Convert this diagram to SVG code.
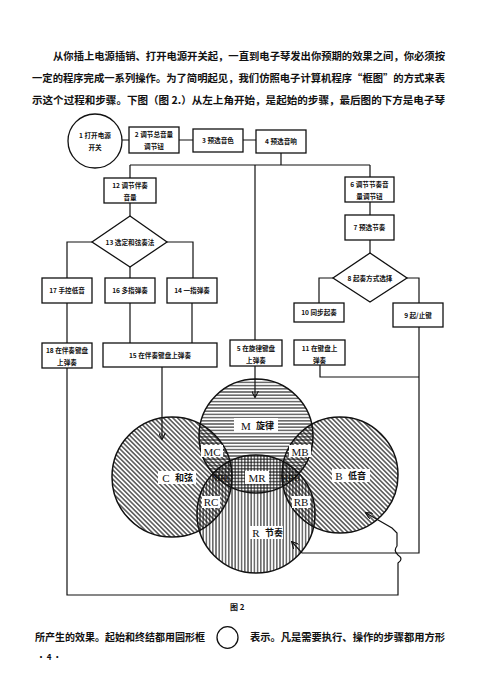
<svg xmlns="http://www.w3.org/2000/svg" width="489" height="690" viewBox="0 0 489 690">
<style>
.bx{fill:#fff;stroke:#111;stroke-width:1.3}
.ln{fill:none;stroke:#111;stroke-width:1.2}
.t{font-family:"Noto Sans CJK SC","Noto Sans CJK TC",sans-serif;font-size:6.6px;font-weight:bold;text-anchor:middle;fill:#111}
.p{font-family:"Noto Sans CJK SC","Noto Sans CJK TC",sans-serif;font-size:10.2px;font-weight:bold;fill:#111}
.v{font-family:"Liberation Serif","Noto Sans CJK SC",serif;font-size:11px;text-anchor:middle;fill:#111}
.vc{font-family:"Noto Sans CJK SC",sans-serif;font-size:9px;font-weight:bold;text-anchor:middle;fill:#111}
.wb{fill:#fff}
.co{fill:none;stroke:#111;stroke-width:1.5}
</style>
<defs>
<pattern id="hh" width="3.2" height="3.2" patternUnits="userSpaceOnUse"><line x1="0" y1="1.6" x2="3.2" y2="1.6" stroke="#111" stroke-width="1"/></pattern>
<pattern id="hv" width="3.2" height="3.2" patternUnits="userSpaceOnUse"><line x1="1.6" y1="0" x2="1.6" y2="3.2" stroke="#111" stroke-width="1"/></pattern>
<pattern id="hd" width="3.3" height="3.3" patternUnits="userSpaceOnUse" patternTransform="rotate(-45)"><line x1="1.65" y1="0" x2="1.65" y2="3.3" stroke="#111" stroke-width="1.1"/></pattern>
<marker id="ar" viewBox="0 0 10 10" refX="9" refY="5" markerWidth="7" markerHeight="7" orient="auto" markerUnits="userSpaceOnUse"><path d="M0,0 L10,5 L0,10" fill="none" stroke="#111" stroke-width="1.6"/></marker>
</defs>
<rect width="489" height="690" fill="#fff"/>

<g id="para-top">
<text class="p" x="53" y="60" textLength="392" lengthAdjust="spacingAndGlyphs">从你插上电源插销、打开电源开关起，一直到电子琴发出你预期的效果之间，你必须按</text>
<text class="p" x="32" y="82" textLength="413" lengthAdjust="spacingAndGlyphs">一定的程序完成一系列操作。为了简明起见，我们仿照电子计算机程序“框图”的方式来表</text>
<text class="p" x="32" y="104" textLength="413" lengthAdjust="spacingAndGlyphs">示这个过程和步骤。下图（图 2.）从左上角开始，是起始的步骤，最后图的下方是电子琴</text>
</g>

<g id="connectors">
<path class="ln" d="M122,140 H129 M179,140 H193 M243,140 H256"/>
<path class="ln" d="M281,153 V165 M130,165 H370 M130,165 V178 M255,165 V340 M370,165 V177"/>
<path class="ln" d="M130,203 V216 M92,242 H67 V278 M167,242 H193 V278 M130,267 V278"/>
<path class="ln" d="M67,303 V343 M130,303 V343 M192,303 V343"/>
<path class="ln" d="M162,367 V439" marker-end="url(#ar)"/>
<path class="ln" d="M255,366 V397" marker-end="url(#ar)"/>
<path class="ln" d="M370,202 V215 M370,240 V253 M333,278 H319 V303 M407,278 H419 V303"/>
<path class="ln" d="M320,365 V377 H419 M419,327 V553 H302 L292,542" marker-end="url(#ar)"/>
<path class="ln" d="M67,368 V595 H398 V563 Q404,559 398,555 Q393,551 397,546 V533 L392,528 L366,513" marker-end="url(#ar)"/>
</g>

<g id="n1"><circle cx="95" cy="141" r="27" class="bx"/><text class="t" x="95" y="138">1 打开电源</text><text class="t" x="95" y="150">开关</text></g>
<g id="n2"><rect class="bx" x="129" y="127" width="50" height="26"/><text class="t" x="154" y="137">2 调节总音量</text><text class="t" x="154" y="149">调节钮</text></g>
<g id="n3"><rect class="bx" x="193" y="129" width="50" height="23"/><text class="t" x="218" y="143">3 预选音色</text></g>
<g id="n4"><rect class="bx" x="256" y="130" width="50" height="23"/><text class="t" x="281" y="144">4 预选音响</text></g>

<g id="n12"><rect class="bx" x="104" y="178" width="52" height="25"/><text class="t" x="130" y="188">12 调节伴奏</text><text class="t" x="130" y="200">音量</text></g>
<g id="n13"><polygon class="bx" points="130,216 167,242 130,267 92,242"/><text class="t" x="130" y="244.5">13 选定和弦奏法</text></g>
<g id="n17"><rect class="bx" x="42" y="278" width="50" height="25"/><text class="t" x="67" y="293">17 手控低音</text></g>
<g id="n16"><rect class="bx" x="105" y="278" width="50" height="25"/><text class="t" x="130" y="293">16 多指弹奏</text></g>
<g id="n14"><rect class="bx" x="167" y="278" width="50" height="25"/><text class="t" x="192" y="293">14 一指弹奏</text></g>
<g id="n18"><rect class="bx" x="42" y="343" width="50" height="25"/><text class="t" x="67" y="353">18 在伴奏键盘</text><text class="t" x="67" y="365">上弹奏</text></g>
<g id="n15"><rect class="bx" x="103" y="343" width="114" height="24"/><text class="t" x="160" y="358">15 在伴奏键盘上弹奏</text></g>
<g id="n5"><rect class="bx" x="230" y="340" width="52" height="26"/><text class="t" x="256" y="351">5 在旋律键盘</text><text class="t" x="256" y="363">上弹奏</text></g>

<g id="n6"><rect class="bx" x="345" y="177" width="49" height="25"/><text class="t" x="369.5" y="187">6 调节节奏音</text><text class="t" x="369.5" y="199">量调节钮</text></g>
<g id="n7"><rect class="bx" x="345" y="215" width="49" height="25"/><text class="t" x="369.5" y="230">7 预选节奏</text></g>
<g id="n8"><polygon class="bx" points="370,253 407,278 370,302 333,278"/><text class="t" x="370" y="280.5">8 起奏方式选择</text></g>
<g id="n10"><rect class="bx" x="294" y="303" width="50" height="19"/><text class="t" x="319" y="315">10 同步起奏</text></g>
<g id="n9"><rect class="bx" x="393" y="303" width="50" height="24"/><text class="t" x="418" y="318">9 起/止键</text></g>
<g id="n11"><rect class="bx" x="294" y="340" width="51" height="25"/><text class="t" x="319.5" y="351">11 在键盘上</text><text class="t" x="319.5" y="363">弹奏</text></g>

<g id="venn">
<circle cx="172" cy="477" r="60" fill="url(#hd)"/>
<circle cx="340" cy="475" r="58" fill="url(#hd)"/>
<circle cx="256" cy="436" r="57" fill="url(#hh)"/>
<circle cx="256" cy="514" r="59" fill="url(#hv)"/>
<circle cx="172" cy="477" r="60" class="co"/>
<circle cx="340" cy="475" r="58" class="co"/>
<circle cx="256" cy="436" r="57" class="co"/>
<circle cx="256" cy="514" r="59" class="co"/>
<rect class="wb" x="234" y="418" width="44" height="14"/><text class="v" x="246" y="430">M</text><text class="vc" x="265" y="429">旋律</text>
<rect class="wb" x="158" y="471" width="38" height="13"/><text class="v" x="166" y="482">C</text><text class="vc" x="184" y="481">和弦</text>
<rect class="wb" x="332" y="469" width="38" height="13"/><text class="v" x="339" y="480">B</text><text class="vc" x="357" y="479">低音</text>
<rect class="wb" x="249" y="526" width="34" height="13"/><text class="v" x="256" y="537">R</text><text class="vc" x="274" y="536">节奏</text>
<rect class="wb" x="201" y="445" width="22" height="12"/><text class="v" x="212" y="455.5">MC</text>
<rect class="wb" x="289" y="445" width="22" height="12"/><text class="v" x="300" y="455.5">MB</text>
<rect class="wb" x="245" y="471" width="24" height="13"/><text class="v" x="257" y="482">MR</text>
<text class="v" x="222" y="481" style="font-size:9px">MRC</text>
<text class="v" x="290" y="481" style="font-size:9px">MRB</text>
<rect class="wb" x="202" y="496" width="18" height="12"/><text class="v" x="211" y="506">RC</text>
<rect class="wb" x="292" y="496" width="18" height="12"/><text class="v" x="301" y="506">RB</text>
</g>

<g id="caption"><text class="p" x="230" y="610" style="font-size:8px">图 2</text></g>
<g id="para-bottom">
<text class="p" x="35" y="641" textLength="170" lengthAdjust="spacingAndGlyphs">所产生的效果。起始和终结都用圆形框</text>
<ellipse cx="227.5" cy="637.5" rx="10.5" ry="10.8" fill="none" stroke="#111" stroke-width="1.3"/>
<text class="p" x="250" y="641" textLength="195" lengthAdjust="spacingAndGlyphs">表示。凡是需要执行、操作的步骤都用方形</text>
<text class="p" x="37" y="660" style="font-size:8px">• 4 •</text>
</g>
</svg>
